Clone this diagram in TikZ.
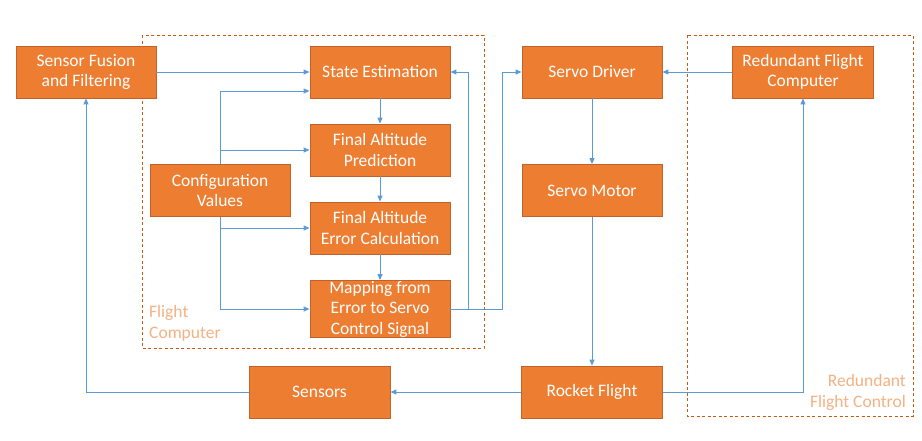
\documentclass[tikz,border=0pt]{standalone}
\usepackage{fontspec}
\setmainfont{Carlito}
\usetikzlibrary{arrows.meta}
\definecolor{boxfill}{HTML}{ED7D31}
\definecolor{boxline}{HTML}{C0622A}
\definecolor{conn}{HTML}{5B9BD5}
\definecolor{dashc}{HTML}{C55A11}
\definecolor{lbl}{HTML}{F4B183}
\begin{document}
\begin{tikzpicture}[x=1pt,y=-1pt,
  blk/.style={draw=boxline,line width=0.8pt,fill=boxfill,text=white,minimum width=140pt,minimum height=52pt,inner sep=0pt,align=center,font=\fontsize{17.5}{20.5}\selectfont},
  arr/.style={draw=conn,line width=1pt,-{Triangle[length=6pt,width=5pt]}},
  ln/.style={draw=conn,line width=1pt},
  grp/.style={draw=dashc,line width=1pt,dash pattern=on 3pt off 2.5pt},
  grplbl/.style={text=lbl,font=\fontsize{17.5}{21}\selectfont,inner sep=0pt}]
\useasboundingbox (0,0) rectangle (922,440);
% groups
\draw[grp] (142,35) rectangle (484,348);
\draw[grp] (687,35) rectangle (913,416);
\node[grplbl,anchor=west,align=left] (fclbl) at (149,323) {Flight\\Computer};
\node[grplbl,anchor=east,align=right] (rfclbl) at (906,392) {Redundant\\Flight Control};
% blocks
\node[blk] (sf) at (86,72) {Sensor Fusion\\and Filtering};
\node[blk] (se) at (380,72) {State Estimation};
\node[blk] (fap) at (380,150) {Final Altitude\\Prediction};
\node[blk] (cv) at (220,190.5) {Configuration\\Values};
\node[blk] (fae) at (380,228) {Final Altitude\\Error Calculation};
\node[blk,minimum height=57pt] (map) at (380,309) {Mapping from\\Error to Servo\\Control Signal};
\node[blk] (sd) at (592,72) {Servo Driver};
\node[blk] (sm) at (592,190.5) {Servo Motor};
\node[blk,minimum width=141pt] (rfc) at (803,72) {Redundant Flight\\Computer};
\node[blk,minimum width=141pt] (sens) at (319.5,392) {Sensors};
\node[blk,minimum width=141pt] (rf) at (592,392) {Rocket Flight};
% junctions
\coordinate (j1) at (468,309);
\coordinate (j2) at (502,309);
% connectors
\draw[arr] (sf) -- (se);
\draw[arr] (cv.north) |- ([yshift=-19pt]se.west);
\draw[arr] (cv.north |- fap.west) -- (fap.west);
\draw[arr] (cv.south) |- (map.west);
\draw[arr] (cv.south |- fae.west) -- (fae.west);
\draw[arr] (se) -- (fap);
\draw[arr] (fap) -- (fae);
\draw[arr] (fae) -- (map);
\draw[arr] (map.east) -- (j1) |- (se.east);
\draw[arr] (j1) -- (j2) |- (sd.west);
\draw[arr] (rfc) -- (sd);
\draw[arr] (sd) -- (sm);
\draw[arr] (sm) -- (rf);
\draw[arr] (rf) -- (sens);
\draw[arr] (sens.west) -| (sf.south);
\draw[arr] (rf.east) -| (rfc.south);
\end{tikzpicture}
\end{document}
